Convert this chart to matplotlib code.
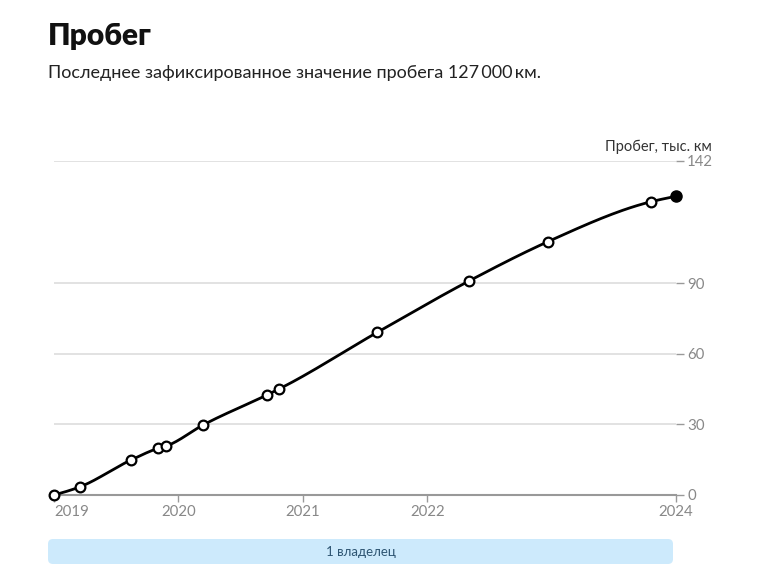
import numpy as np
import matplotlib
matplotlib.use("Agg")
import matplotlib.pyplot as plt
from matplotlib.patches import FancyBboxPatch

plt.rcParams['font.family'] = ['Lato', 'DejaVu Sans']

# data: date (decimal year), mileage (thousand km)
dates = [2019.00, 2019.21, 2019.62, 2019.84, 2019.90, 2020.20, 2020.71,
         2020.81, 2021.60, 2022.34, 2022.97, 2023.80, 2024.00]
mileage = [0, 3.5, 14.9, 19.9, 20.8, 29.8, 42.5, 45.1, 69.2, 91.1, 107.7,
           124.7, 127.0]
year_ticks = [2019, 2020, 2021, 2022, 2024]
y_ticks = [0, 30, 60, 90, 142]
owners_label = "1 владелец"


def monotone_x(x, y, n=30):
    # monotone cubic curve through the points (like d3 curveMonotoneX)
    x = np.asarray(x, float)
    y = np.asarray(y, float)
    h = np.diff(x)
    s = np.diff(y) / h
    m = np.zeros(len(x))
    for i in range(1, len(x) - 1):
        p = (s[i - 1] * h[i] + s[i] * h[i - 1]) / (h[i - 1] + h[i])
        m[i] = (np.sign(s[i - 1]) + np.sign(s[i])) * min(abs(s[i - 1]), abs(s[i]), 0.5 * abs(p))
    m[0] = (3 * s[0] - m[1]) / 2
    m[-1] = (3 * s[-1] - m[-2]) / 2
    xs, ys = [], []
    for i in range(len(x) - 1):
        t = np.linspace(0, 1, n)
        h00 = 2 * t**3 - 3 * t**2 + 1
        h10 = t**3 - 2 * t**2 + t
        h01 = -2 * t**3 + 3 * t**2
        h11 = t**3 - t**2
        xs.extend(x[i] + t * h[i])
        ys.extend(h00 * y[i] + h10 * h[i] * m[i] + h01 * y[i + 1] + h11 * h[i] * m[i + 1])
    return np.array(xs), np.array(ys)


W, H = 760, 585
fig = plt.figure(figsize=(W / 100, H / 100), dpi=100)

fig.text(48 / W, 1 - 36 / H, "Пробег", fontsize=21.5, fontweight='heavy',
         va='center', ha='left', color='#111111')
fig.text(48 / W, 1 - 73 / H, "Последнее зафиксированное значение пробега 127\u2009000\u2009км.",
         fontsize=13, va='center', ha='left', color='#222222')

ax = fig.add_axes([54 / W, (H - 495) / H, (676 - 54) / W, (495 - 161) / H])
cx, cy = monotone_x(dates, mileage)
ax.plot(cx, cy, color='black', lw=2, clip_on=False, zorder=3)
ax.plot(dates[:-1], mileage[:-1], 'o', ms=7, mfc='white', mec='black', mew=1.6,
        clip_on=False, zorder=4)
ax.plot(dates[-1:], mileage[-1:], 'o', ms=8, mfc='black', mec='black',
        clip_on=False, zorder=4)

ax.set_xlim(2019, 2024)
ax.set_ylim(0, 142)
ax.set_yticks(y_ticks)
ax.yaxis.tick_right()
ax.grid(axis='y', color='#dddddd', lw=1.2)
ax.set_axisbelow(True)
for side in ['top', 'left', 'right']:
    ax.spines[side].set_visible(False)
ax.spines['bottom'].set_color('#999999')
ax.spines['bottom'].set_linewidth(1.5)
ax.tick_params(axis='y', length=6, width=1, color='#999999', labelcolor='#888888',
               labelsize=10.8, pad=2)
ax.set_xticks(year_ticks)
ax.set_xticklabels([str(y) for y in year_ticks])
ax.tick_params(axis='x', length=5, width=1, color='#999999', labelcolor='#888888',
               labelsize=10.8, pad=2)
ax.get_xticklabels()[0].set_horizontalalignment('left')

fig.text(712 / W, 1 - 147 / H, "Пробег, тыс. км", fontsize=10.5, ha='right',
         va='center', color='#333333')

bar = fig.add_axes([48 / W, (H - 564) / H, 625 / W, 25 / H])
bar.set_xlim(0, 625)
bar.set_ylim(0, 25)
bar.axis('off')
bar.add_patch(FancyBboxPatch((0, 0), 625, 25, boxstyle='round,pad=0,rounding_size=5',
                             fc='#cdeafc', ec='none'))
bar.text(312.5, 12.5, owners_label, ha='center', va='center', fontsize=9.5,
         color='#2f5673')

fig.savefig("out.png", dpi=100)
